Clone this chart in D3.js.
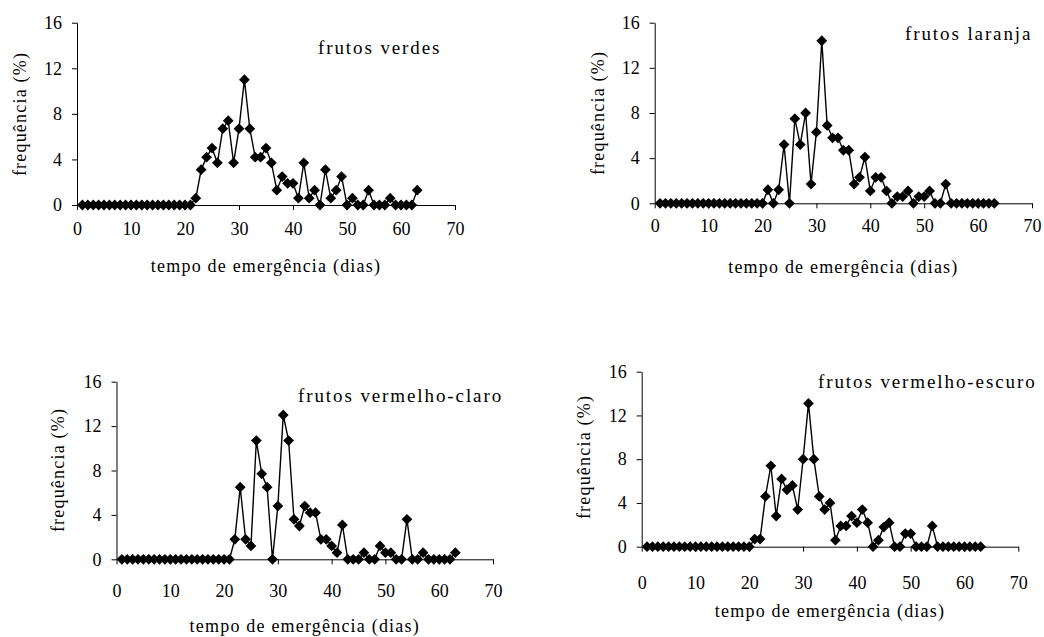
<!DOCTYPE html>
<meta charset="utf-8">
<script src="https://d3js.org/d3.v7.min.js"></script>
<style>
  body { margin: 0; background: #fff; }
  text { font-family: "Liberation Serif", "Times New Roman", serif; fill: #000; }
</style>
<div id="chart"></div>
<script>
// days 1..63
const days = d3.range(1, 64);

const xTicks = [0, 10, 20, 30, 40, 50, 60, 70];
const yTicks = [0, 4, 8, 12, 16];

// frequência (%) per day
const verdes = [
  0, 0, 0, 0, 0, 0, 0, 0, 0, 0, 0, 0, 0, 0, 0, 0, 0, 0, 0, 0, 0,
  0.6, 3.1, 4.2, 5.0, 3.7, 6.7, 7.4, 3.7, 6.7, 11.0, 6.7, 4.2, 4.2, 5.0, 3.7, 1.3, 2.5, 1.9, 1.9, 0.6, 3.7,
  0.6, 1.3, 0, 3.1, 0.6, 1.3, 2.5, 0, 0.6, 0, 0, 1.3, 0, 0, 0, 0.6, 0, 0, 0, 0, 1.3
];
const laranja = [
  0, 0, 0, 0, 0, 0, 0, 0, 0, 0, 0, 0, 0, 0, 0, 0, 0, 0, 0, 0,
  1.2, 0, 1.2, 5.2, 0, 7.5, 5.2, 8.0, 1.7, 6.3, 14.4, 6.9, 5.8, 5.8, 4.7, 4.7, 1.7, 2.3, 4.1, 1.1, 2.3, 2.3,
  1.1, 0, 0.6, 0.6, 1.1, 0, 0.6, 0.6, 1.1, 0, 0, 1.7, 0, 0, 0, 0, 0, 0, 0, 0, 0
];
const vermelhoClaro = [
  0, 0, 0, 0, 0, 0, 0, 0, 0, 0, 0, 0, 0, 0, 0, 0, 0, 0, 0, 0, 0,
  1.8, 6.5, 1.8, 1.2, 10.7, 7.7, 6.5, 0, 4.8, 13.0, 10.7, 3.6, 3.0, 4.8, 4.2, 4.2, 1.8, 1.8, 1.2, 0.6, 3.1,
  0, 0, 0, 0.6, 0, 0, 1.2, 0.6, 0.6, 0, 0, 3.6, 0, 0, 0.6, 0, 0, 0, 0, 0, 0.6
];
const vermelhoEscuro = [
  0, 0, 0, 0, 0, 0, 0, 0, 0, 0, 0, 0, 0, 0, 0, 0, 0, 0, 0, 0,
  0.7, 0.7, 4.6, 7.4, 2.8, 6.2, 5.2, 5.6, 3.4, 8.0, 13.1, 8.0, 4.6, 3.4, 4.0, 0.6, 1.9, 1.9, 2.8, 2.2, 3.4, 2.2,
  0, 0.6, 1.8, 2.2, 0, 0, 1.2, 1.2, 0, 0, 0, 1.9, 0, 0, 0, 0, 0, 0, 0, 0, 0
];

const titles = ["frutos verdes", "frutos laranja", "frutos vermelho-claro", "frutos vermelho-escuro"];
const series = [verdes, laranja, vermelhoClaro, vermelhoEscuro];

// panel frames (pixel positions of the axes) and label placement
const panels = [
  { x0: 77,    x1: 455,    y0: 205,   y1: 22.7,  pad: 12, ylab: [20, 114],  xlab: 272, title: [318, 54] },
  { x0: 654.7, x1: 1032,   y0: 203.3, y1: 22.7,  pad: 11, ylab: [598, 113], xlab: 273, title: [905, 40] },
  { x0: 116.5, x1: 493,    y0: 559.3, y1: 381.7, pad: 20, ylab: [58, 470],  xlab: 632, title: [298, 402] },
  { x0: 641.7, x1: 1018.3, y0: 546.7, y1: 371.7, pad: 25, ylab: [584, 457], xlab: 617, title: [818, 388] }
];

const svg = d3.select("#chart")
  .append("svg")
  .attr("width", 1044)
  .attr("height", 637);

const diamond = d3.symbol().type(d3.symbolSquare).size(58);

panels.forEach(function (p, i) {
  const data = series[i];

  const x = d3.scaleLinear().domain([0, 70]).range([p.x0, p.x1]);
  const y = d3.scaleLinear().domain([0, 16]).range([p.y0, p.y1]);

  const g = svg.append("g");

  // x axis
  const gx = g.append("g")
    .attr("transform", `translate(0,${p.y0})`)
    .call(d3.axisBottom(x).tickValues(xTicks).tickSize(5).tickSizeOuter(0).tickPadding(p.pad));
  // y axis
  const gy = g.append("g")
    .attr("transform", `translate(${p.x0},0)`)
    .call(d3.axisLeft(y).tickValues(yTicks).tickSize(5).tickSizeOuter(0).tickPadding(10));

  [gx, gy].forEach(function (a) {
    a.selectAll("path, line").attr("stroke", "#000").attr("stroke-width", 1);
    a.selectAll("text")
      .style("font-family", "'Liberation Serif', 'Times New Roman', serif")
      .style("font-size", "18px")
      .attr("fill", "#000");
  });

  // the line
  g.append("path")
    .datum(data)
    .attr("fill", "none")
    .attr("stroke", "#000")
    .attr("stroke-width", 1.4)
    .attr("d", d3.line()
      .x(function (d, k) { return x(days[k]); })
      .y(function (d) { return y(d); }));

  // diamond markers
  g.selectAll(".pt")
    .data(data)
    .enter()
    .append("path")
    .attr("class", "pt")
    .attr("d", diamond)
    .attr("transform", function (d, k) { return `translate(${x(days[k])},${y(d)}) rotate(45)`; })
    .attr("fill", "#000");

  // axis titles
  g.append("text")
    .attr("x", (p.x0 + p.x1) / 2)
    .attr("y", p.xlab)
    .attr("text-anchor", "middle")
    .style("font-size", "18px")
    .style("letter-spacing", "1.2px")
    .text("tempo de emergência (dias)");

  g.append("text")
    .attr("transform", `translate(${p.ylab[0]},${p.ylab[1]}) rotate(-90)`)
    .attr("text-anchor", "middle")
    .attr("dy", "0.35em")
    .style("font-size", "18px")
    .style("letter-spacing", "1.2px")
    .text("frequência (%)");

  // panel title
  g.append("text")
    .attr("x", p.title[0])
    .attr("y", p.title[1])
    .style("font-size", "19px")
    .style("letter-spacing", "1.9px")
    .text(titles[i]);
});
</script>
